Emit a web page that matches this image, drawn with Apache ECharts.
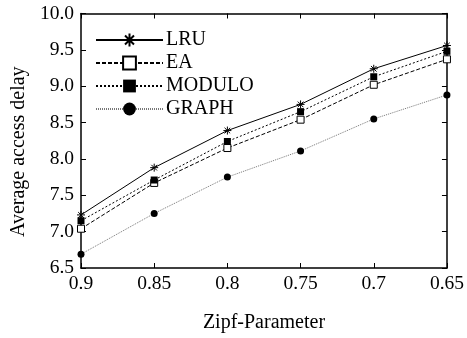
<!DOCTYPE html>
<html><head><meta charset="utf-8">
<script src="https://cdn.jsdelivr.net/npm/echarts@6/dist/echarts.min.js"></script>
<style>html,body{margin:0;padding:0;background:#fff}#c{width:467px;height:338px}</style>
</head><body><div id="c"></div>
<script>
const categories = ['0.9','0.85','0.8','0.75','0.7','0.65'];
const lru    = [7.23, 7.88, 8.39, 8.75, 9.24, 9.56];
const ea     = [7.04, 7.67, 8.15, 8.54, 9.02, 9.37];
const modulo = [7.15, 7.71, 8.24, 8.65, 9.13, 9.48];
const graph  = [6.69, 7.25, 7.75, 8.11, 8.55, 8.88];
const yTicks = [6.5, 7.0, 7.5, 8.0, 8.5, 9.0, 9.5, 10.0];

const font = 'Liberation Serif, Times New Roman, serif';
const star = 'path://M0,-10 L0,10 M-10,0 L10,0 M-7,-7 L7,7 M-7,7 L7,-7';
const chart = echarts.init(document.getElementById('c'));
chart.setOption({
  animation: false,
  backgroundColor: '#fff',
  grid: {left: 81, right: 15, top: 13.5, bottom: 67},
  legend: {
    left: 95, top: 30, orient: 'vertical', padding: 0,
    itemWidth: 67, itemHeight: 16, itemGap: 3,
    textStyle: {fontFamily: font, fontSize: 20, color: '#000', padding: [0,0,0,-2]},
    data: ['LRU','EA','MODULO','GRAPH']
  },
  xAxis: [{
    type: 'category', data: categories, boundaryGap: false,
    name: 'Zipf-Parameter', nameLocation: 'middle', nameGap: 45,
    nameTextStyle: {fontFamily: font, fontSize: 20, color: '#000'},
    axisLine: {lineStyle: {color: '#000', width: 1.5}},
    axisTick: {inside: true, length: 5, lineStyle: {color: '#000'}},
    axisLabel: {fontFamily: font, fontSize: 19.5, color: '#000', margin: 6}
  }, {
    type: 'category', data: categories, boundaryGap: false, position: 'top',
    axisLine: {lineStyle: {color: '#000', width: 1.5}},
    axisTick: {inside: true, length: 5, lineStyle: {color: '#000'}},
    axisLabel: {show: false}
  }],
  yAxis: [{
    type: 'value', min: yTicks[0], max: yTicks[yTicks.length-1], interval: 0.5,
    name: 'Average access delay', nameLocation: 'middle', nameGap: 48,
    nameTextStyle: {fontFamily: font, fontSize: 20, color: '#000', padding: [0, 22, 0, 0]},
    axisLine: {show: true, lineStyle: {color: '#000', width: 1.5}},
    axisTick: {show: true, inside: true, length: 5, lineStyle: {color: '#000'}},
    splitLine: {show: false},
    axisLabel: {fontFamily: font, fontSize: 19.5, color: '#000', margin: 7, formatter: v => v.toFixed(1)}
  }, {
    type: 'value', min: yTicks[0], max: yTicks[yTicks.length-1], interval: 0.5, position: 'right',
    axisLine: {show: true, lineStyle: {color: '#000', width: 1.5}},
    axisTick: {show: true, inside: true, length: 5, lineStyle: {color: '#000'}},
    splitLine: {show: false},
    axisLabel: {show: false}
  }],
  series: [
    {name: 'LRU', type: 'line', data: lru, symbol: star, symbolSize: 8,
     lineStyle: {color: '#000', width: 1, type: 'solid'},
     itemStyle: {color: '#000', borderColor: '#000', borderWidth: 1}},
    {name: 'EA', type: 'line', data: ea, symbol: 'rect', symbolSize: 7,
     lineStyle: {color: '#000', width: 1, type: [4, 2]},
     itemStyle: {color: '#fff', borderColor: '#000', borderWidth: 1}},
    {name: 'MODULO', type: 'line', data: modulo, symbol: 'rect', symbolSize: 7,
     lineStyle: {color: '#000', width: 1, type: [2, 2]},
     itemStyle: {color: '#000', borderColor: '#000', borderWidth: 0}},
    {name: 'GRAPH', type: 'line', data: graph, symbol: 'circle', symbolSize: 7,
     lineStyle: {color: '#777', width: 1, type: [1, 1]},
     itemStyle: {color: '#000', borderColor: '#000', borderWidth: 0}}
  ]
});
</script></body></html>
